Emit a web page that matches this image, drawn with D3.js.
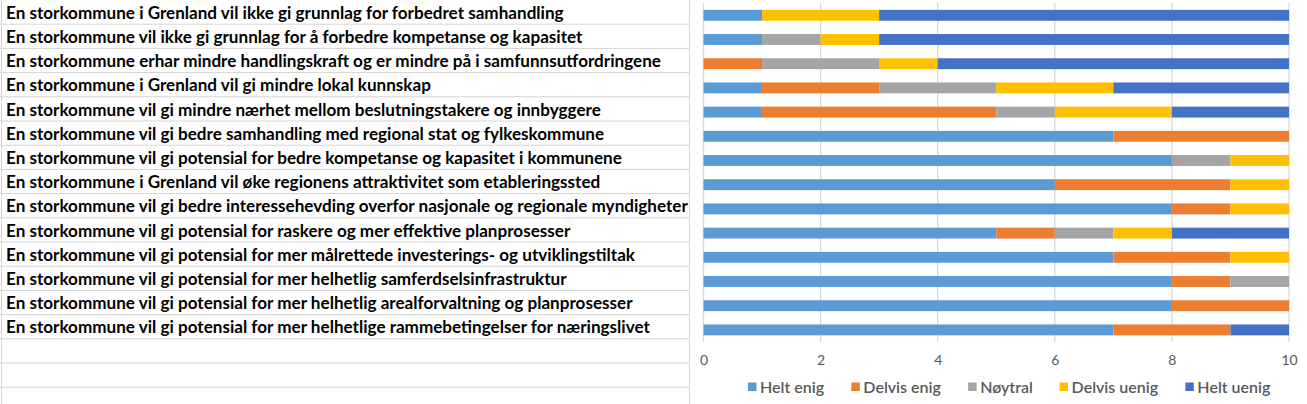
<!DOCTYPE html>
<html>
<head>
<meta charset="utf-8">
<script src="https://cdn.jsdelivr.net/npm/d3@7"></script>
<style>
  body { margin: 0; background: #fff; }
  svg { display: block; }
</style>
</head>
<body>
<svg id="chart" width="1307" height="404"></svg>
<script>
// statements, top to bottom as in the sheet
const statements = [
    "En storkommune i Grenland vil ikke gi grunnlag for forbedret samhandling",
    "En storkommune vil ikke gi grunnlag for å forbedre kompetanse og kapasitet",
    "En storkommune erhar mindre handlingskraft og er mindre på i samfunnsutfordringene",
    "En storkommune i Grenland vil gi mindre lokal kunnskap",
    "En storkommune vil gi mindre nærhet mellom beslutningstakere og innbyggere",
    "En storkommune vil gi bedre samhandling med regional stat og fylkeskommune",
    "En storkommune vil gi potensial for bedre kompetanse og kapasitet i kommunene",
    "En storkommune i Grenland vil øke regionens attraktivitet som etableringssted",
    "En storkommune vil gi bedre interessehevding overfor nasjonale og regionale myndigheter",
    "En storkommune vil gi potensial for raskere og mer effektive planprosesser",
    "En storkommune vil gi potensial for mer målrettede investerings- og utviklingstiltak",
    "En storkommune vil gi potensial for mer helhetlig samferdselsinfrastruktur",
    "En storkommune vil gi potensial for mer helhetlig arealforvaltning og planprosesser",
    "En storkommune vil gi potensial for mer helhetlige rammebetingelser for næringslivet"
];

const answers = ["Helt enig", "Delvis enig", "Nøytral", "Delvis uenig", "Helt uenig"];

const heltEnig    = [1, 1, 0, 1, 1, 7, 8, 6, 8, 5, 7, 8, 8, 7];
const delvisEnig  = [0, 0, 1, 2, 4, 3, 0, 3, 1, 1, 2, 1, 2, 2];
const noytral     = [0, 1, 2, 2, 1, 0, 1, 0, 0, 1, 0, 1, 0, 0];
const delvisUenig = [2, 1, 1, 2, 2, 0, 1, 1, 1, 1, 1, 0, 0, 0];
const heltUenig   = [7, 7, 6, 3, 2, 0, 0, 0, 0, 2, 0, 0, 0, 1];

const xTicks = [0, 2, 4, 6, 8, 10];

const colors = ["#5B9BD5", "#ED7D31", "#A5A5A5", "#FFC000", "#4472C4"];

// build rows for the stack
const series = [heltEnig, delvisEnig, noytral, delvisUenig, heltUenig];
const rows = statements.map(function(s, i) {
    var r = {statement: s};
    answers.forEach(function(a, j) { r[a] = series[j][i]; });
    return r;
});

const svg = d3.select("#chart");
const gridColor = "#d9d9d9";
const cellColor = "#d4d4d4";
const font = "Lato, 'Open Sans', sans-serif";

// spreadsheet cells on the left
const cellH = 24.2;
const sheet = svg.append("g");
d3.range(1, 17).forEach(function(k) {
    sheet.append("line")
        .attr("x1", 0).attr("x2", 689.5)
        .attr("y1", k * cellH).attr("y2", k * cellH)
        .attr("stroke", cellColor).attr("stroke-width", 1);
});
[1.5, 689.5].forEach(function(x) {
    sheet.append("line")
        .attr("x1", x).attr("x2", x)
        .attr("y1", 0).attr("y2", 404)
        .attr("stroke", cellColor).attr("stroke-width", 1);
});

const cellY = d3.scaleBand().domain(statements).range([0, statements.length * cellH]);

const labels = sheet.append("g");
labels.selectAll("text")
    .data(statements)
    .join("text")
    .attr("x", 0)
    .attr("y", function(d) { return cellY(d) + 18.8; })
    .style("font-family", font)
    .style("font-weight", "bold")
    .style("font-size", "16.5px")
    .style("fill", "#000")
    .text(function(d) { return d; });

// squeeze labels horizontally to the width of the original font
var widest = 0;
labels.selectAll("text").each(function() {
    widest = Math.max(widest, this.getComputedTextLength());
});
var sx = 682 / widest;
labels.attr("transform", "translate(6,0) scale(" + sx + ",1)");

// chart area
const chart = svg.append("g");
chart.append("rect")
    .attr("x", 692).attr("y", 0)
    .attr("width", 615).attr("height", 404)
    .attr("fill", "#fff");

const x = d3.scaleLinear().domain([0, 10]).range([703.5, 1289]);
const y = d3.scaleBand().domain(statements).range([3.2, 342]).paddingInner(0.55).paddingOuter(0.275);

chart.append("g")
    .selectAll("line")
    .data(xTicks)
    .join("line")
    .attr("x1", function(d) { return x(d); })
    .attr("x2", function(d) { return x(d); })
    .attr("y1", 3).attr("y2", 342)
    .attr("stroke", gridColor).attr("stroke-width", 1.3);

const stack = d3.stack().keys(answers);
const layers = stack(rows);

chart.append("g")
    .selectAll("g")
    .data(layers)
    .join("g")
    .attr("fill", function(d, i) { return colors[i]; })
    .selectAll("rect")
    .data(function(d) { return d; })
    .join("rect")
    .attr("x", function(d) { return x(d[0]); })
    .attr("width", function(d) { return x(d[1]) - x(d[0]); })
    .attr("y", function(d) { return y(d.data.statement); })
    .attr("height", y.bandwidth());

// x axis labels
const axis = chart.append("g")
    .attr("transform", "translate(0,342)")
    .call(d3.axisBottom(x).tickValues(xTicks).tickSize(0).tickPadding(13));
axis.select(".domain").remove();
axis.selectAll("text")
    .style("font-family", font)
    .style("font-size", "14px")
    .style("fill", "#595959");

// legend
const legend = chart.append("g").attr("transform", "translate(0,387)");
const items = legend.selectAll("g")
    .data(answers)
    .join("g");
items.append("rect")
    .attr("width", 8.5).attr("height", 8.5)
    .attr("y", -4.5)
    .attr("fill", function(d, i) { return colors[i]; });
items.append("text")
    .attr("x", 12)
    .attr("dy", "0.36em")
    .style("font-family", font)
    .style("font-size", "16px")
    .style("font-weight", "600")
    .style("fill", "#595959")
    .text(function(d) { return d; });

// spread legend items over the same span as the original
var widths = [];
items.each(function() { widths.push(this.getBBox().width); });
var left = 748, right = 1271;
var gap = (right - left - d3.sum(widths)) / (widths.length - 1);
var cursor = left;
items.attr("transform", function(d, i) {
    var t = "translate(" + cursor + ",0)";
    cursor += widths[i] + gap;
    return t;
});
</script>
</body>
</html>
